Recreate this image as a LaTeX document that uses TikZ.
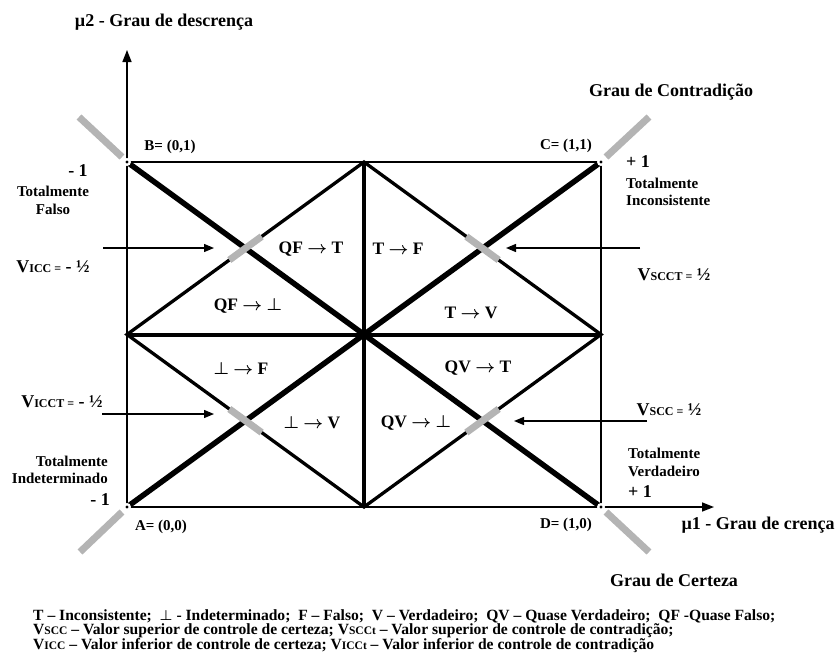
\documentclass[tikz,border=0pt]{standalone}
\usepackage{fontspec}
\setmainfont{Liberation Serif}
\usetikzlibrary{arrows.meta,calc}
\definecolor{grayc}{HTML}{B4B4B4}
\newcommand{\smc}[1]{{\fontsize{12}{12}\selectfont #1}}
\newcommand{\lsmc}[1]{{\fontsize{11.5}{11.5}\selectfont #1}}
\begin{document}
\begin{tikzpicture}[x=1pt,y=-1pt,
  lbl/.style={font=\fontsize{17.5}{17.5}\selectfont\bfseries\boldmath, inner sep=0pt},
  big/.style={font=\fontsize{18}{18}\selectfont\bfseries\boldmath, inner sep=0pt},
  small/.style={font=\fontsize{15}{17.5}\selectfont\bfseries, inner sep=0pt},
  legend/.style={font=\fontsize{15.6}{15.6}\selectfont\bfseries\boldmath, inner sep=0pt, anchor=west},
  thinl/.style={line width=1.5pt},
  diam/.style={line width=3.3pt, line join=miter},
  cross/.style={line width=4pt},
  diag/.style={line width=5.5pt},
  grayl/.style={line width=7pt, draw=grayc},
  arr/.style={line width=1.3pt, -{Triangle[length=10pt,width=8pt]}},
]
\useasboundingbox (0,0) rectangle (840,664);
% corners and key points
\coordinate (A) at (127,507);
\coordinate (B) at (127,162);
\coordinate (C) at (601,162);
\coordinate (D) at (601,507);
\coordinate (O) at (364,334.5);
\coordinate (Tm) at (364,162);
\coordinate (Rm) at (601,334.5);
\coordinate (Bm) at (364,507);
\coordinate (Lm) at (127,334.5);
\coordinate (P1) at ($(B)!0.5!(O)$);
\coordinate (P2) at ($(C)!0.5!(O)$);
\coordinate (P3) at ($(A)!0.5!(O)$);
\coordinate (P4) at ($(D)!0.5!(O)$);
\coordinate (Yend) at (127,50);
\coordinate (Xend) at (714,507);
% rectangle and axes
\draw[thinl] (B) -- (C) -- (D);
\draw[thinl,-{Triangle[length=12pt,width=9pt]}] (A) -- (Yend);
\draw[thinl,-{Triangle[length=12pt,width=9pt]}] (A) -- (Xend);
% diamond
\draw[diam] (Tm) -- (Rm) -- (Bm) -- (Lm) -- cycle;
% central cross
\draw[cross] (Tm) -- (Bm);
\draw[cross] (Lm) -- (Rm);
% diagonals
\draw[diag] (B) -- (D);
\draw[diag] (A) -- (C);
% corner dots
\foreach \p in {A,B,C,D}{
  \fill[white] (\p) circle (4);
  \fill[black] (\p) circle (1.7);
}
% gray extensions
\draw[grayl] ($(B)+(-5,-5)$) -- ($(B)+(-48,-45)$);
\draw[grayl] ($(C)+(5,-5)$) -- ($(C)+(48,-45)$);
\draw[grayl] ($(A)+(-5,5)$) -- ($(A)+(-47,45)$);
\draw[grayl] ($(D)+(5,5)$) -- ($(D)+(48,45)$);
% gray control marks
\draw[grayl] ($(P1)!20pt!(Tm)$) -- ($(P1)!20pt!(Lm)$);
\draw[grayl] ($(P2)!20pt!(Tm)$) -- ($(P2)!20pt!(Rm)$);
\draw[grayl] ($(P3)!20pt!(Bm)$) -- ($(P3)!20pt!(Lm)$);
\draw[grayl] ($(P4)!20pt!(Bm)$) -- ($(P4)!20pt!(Rm)$);
% control arrows
\coordinate (a1s) at (103,248); \coordinate (a1e) at (214,248);
\coordinate (a2s) at (640,248); \coordinate (a2e) at (506,248);
\coordinate (a3s) at (102,414); \coordinate (a3e) at (214,414);
\coordinate (a4s) at (647,421); \coordinate (a4e) at (514,421);
\draw[arr] (a1s) -- (a1e);
\draw[arr] (a2s) -- (a2e);
\draw[arr] (a3s) -- (a3e);
\draw[arr] (a4s) -- (a4e);
% region labels
\node[lbl] (r1) at (311,249) {QF $\rightarrow$ T};
\node[lbl] (r2) at (398,249) {T $\rightarrow$ F};
\node[lbl] (r3) at (248,306) {QF $\rightarrow$ $\perp$};
\node[lbl] (r4) at (471,313) {T $\rightarrow$ V};
\node[lbl] (r5) at (241,368) {$\perp$ $\rightarrow$ F};
\node[lbl] (r6) at (478,368) {QV $\rightarrow$ T};
\node[lbl] (r7) at (312,423) {$\perp$ $\rightarrow$ V};
\node[lbl] (r8) at (416,423) {QV $\rightarrow$ $\perp$};
% titles
\node[big] (t1) at (164,22) {µ2 - Grau de descrença};
\node[big] (t2) at (671,92) {Grau de Contradição};
\node[big] (t3) at (758,525) {µ1 - Grau de crença};
\node[big] (t4) at (674,580) {Grau de Certeza};
% corner labels
\node[small] (lB) at (170,147) {B= (0,1)};
\node[small] (lC) at (566,146) {C= (1,1)};
\node[small] (lA) at (161,527) {A= (0,0)};
\node[small] (lD) at (566,525) {D= (1,0)};
\node[big] (m1) at (78,171) {- 1};
\node[small,align=center] (tf) at (53,200.5) {Totalmente\\Falso};
\node[big] (p1) at (626,162) [anchor=west] {+ 1};
\node[small,align=left,anchor=west] (ti) at (626,192) {Totalmente\\Inconsistente};
\node[small,align=right,anchor=east] (tin) at (108,470) {Totalmente\\Indeterminado};
\node[big,anchor=east] (m2) at (110,500) {- 1};
\node[small,align=left,anchor=west] (tv) at (628,462.5) {Totalmente\\Verdadeiro};
\node[big,anchor=west] (p2) at (628,492) {+ 1};
% control value labels
\node[big] (v1) at (53,267) {V\smc{ICC =} - ½};
\node[big] (v2) at (674,275) {V\smc{SCCT =} ½};
\node[big] (v3) at (62,402) {V\smc{ICCT =} - ½};
\node[big] (v4) at (669,410) {V\smc{SCC =} ½};
% legend
\node[legend] (g1) at (33,616) {T – Inconsistente; \ $\perp$ - Indeterminado; \ F – Falso; \ V – Verdadeiro; \ QV – Quase Verdadeiro; \ QF -Quase Falso;};
\node[legend] (g2) at (33,631) {V\lsmc{SCC} – Valor superior de controle de certeza; V\lsmc{SCCt} – Valor superior de controle de contradição;};
\node[legend] (g3) at (33,646) {V\lsmc{ICC} – Valor inferior de controle de certeza; V\lsmc{ICCt} – Valor inferior de controle de contradição};
\end{tikzpicture}
\end{document}
